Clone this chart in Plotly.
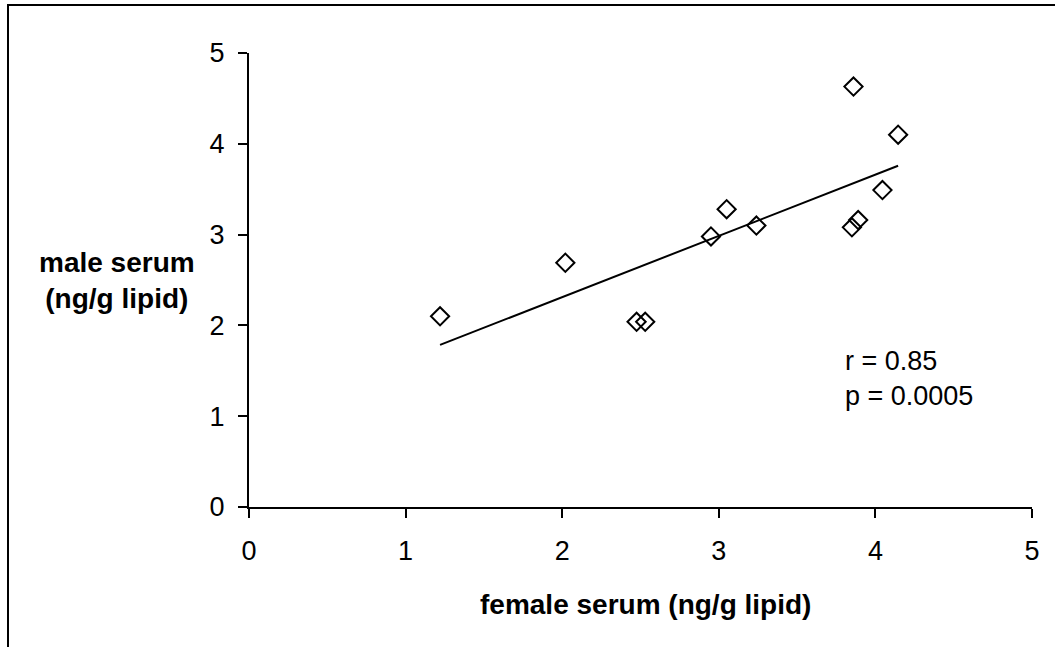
import numpy as np
import plotly.graph_objects as go

# data
female = [1.22, 2.02, 2.475, 2.53, 2.95, 3.05, 3.24, 3.85, 3.89, 4.045, 4.145, 3.86]
male = [2.10, 2.69, 2.04, 2.04, 2.98, 3.28, 3.10, 3.08, 3.16, 3.49, 4.10, 4.63]
tick_vals = [0, 1, 2, 3, 4, 5]
stats_text = ["r = 0.85", "p = 0.0005"]

xf = np.array(female)
ym = np.array(male)
slope, intercept = np.polyfit(xf, ym, 1)
line_x = [xf.min(), xf.max()]
line_y = [slope * v + intercept for v in line_x]

FONT = "Liberation Sans, Arial, sans-serif"

fig = go.Figure()
fig.add_trace(go.Scatter(x=line_x, y=line_y, mode="lines",
                         line=dict(color="black", width=2), showlegend=False))
fig.add_trace(go.Scatter(x=female, y=male, mode="markers",
                         marker=dict(symbol="diamond-open", size=14, color="black",
                                     line=dict(width=2, color="black")),
                         showlegend=False))

W, H = 1055, 647
ml, mr, mt, mb = 249, 23, 53, 140
pw, ph = W - ml - mr, H - mt - mb

def px(xp):
    return (xp - ml) / pw

def py(yp):
    return (H - mb - yp) / ph

axis_common = dict(range=[0, 5], tickvals=tick_vals, showgrid=False, zeroline=False,
                   showline=True, linecolor="black", linewidth=2,
                   ticks="outside", ticklen=9, tickwidth=2, tickcolor="black",
                   tickfont=dict(family=FONT, size=27, color="black"))

fig.update_layout(
    width=W, height=H, autosize=False,
    margin=dict(l=ml, r=mr, t=mt, b=mb),
    paper_bgcolor="white", plot_bgcolor="white",
    xaxis=dict(**axis_common, ticklabelstandoff=10),
    yaxis=dict(**axis_common, ticklabelstandoff=8),
    font=dict(family=FONT, color="black"),
)

# outer frame
fig.add_shape(type="rect", xref="paper", yref="paper",
              x0=px(8), y0=py(660), x1=px(1070), y1=py(5),
              line=dict(color="black", width=2), fillcolor="rgba(0,0,0,0)", layer="below")

fig.add_annotation(text="female serum (ng/g lipid)", xref="paper", yref="paper",
                   x=px(645), y=py(604), xanchor="center", yanchor="middle", showarrow=False,
                   font=dict(family=FONT, size=28, color="black", weight="bold"))
fig.add_annotation(text="male serum<br>(ng/g lipid)", xref="paper", yref="paper",
                   x=px(117), y=py(280), xanchor="center", yanchor="middle",
                   showarrow=False, align="center",
                   font=dict(family=FONT, size=28, color="black", weight="bold"))
fig.add_annotation(text="<br>".join(stats_text), xref="paper", yref="paper",
                   x=px(843), y=py(378), xanchor="left", yanchor="middle",
                   showarrow=False, align="left",
                   font=dict(family=FONT, size=27, color="black"))

fig.write_html("out.html")
